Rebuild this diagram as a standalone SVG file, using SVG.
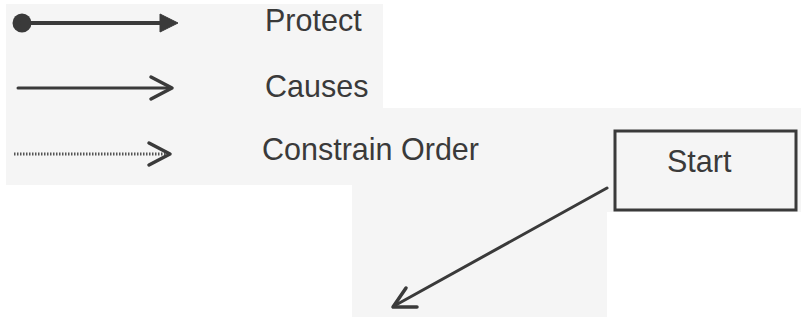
<svg xmlns="http://www.w3.org/2000/svg" width="801" height="322" viewBox="0 0 801 322">
<defs>
<style>
.bg{fill:#f5f5f5;stroke:none}
.lbl{font-family:"Liberation Sans",Arial,sans-serif;font-size:30.5px;fill:#3a3a3a}
.ln{stroke:#3a3a3a;fill:none;stroke-linecap:round;stroke-linejoin:round}
.node{fill:none;stroke:#3a3a3a;stroke-width:3}
</style>
</defs>
<rect width="801" height="322" fill="#ffffff"/>
<rect class="bg" x="6" y="4" width="377" height="181"/>
<path class="bg" d="M352,108 H801 V212 H607 V317 H352 Z"/>
<g id="legend">
<circle cx="22" cy="23" r="9.5" fill="#3a3a3a"/>
<line class="ln" x1="22" y1="23" x2="162" y2="23" stroke-width="4"/>
<path d="M160,14 L178,23 L160,32 Z" fill="#3a3a3a" stroke="#3a3a3a" stroke-width="1"/>
<text class="lbl" x="265" y="31">Protect</text>
<line class="ln" x1="18" y1="88" x2="171" y2="88" stroke-width="3"/>
<path class="ln" d="M151,77 L172,88 L151,99" stroke-width="3.5"/>
<text class="lbl" x="265" y="97">Causes</text>
<line x1="14" y1="154" x2="168" y2="154" stroke="#555" stroke-width="3" stroke-dasharray="1.5 1.5"/>
<path class="ln" d="M149,143 L170,154 L149,165" stroke-width="3.5"/>
<text class="lbl" x="262" y="160">Constrain Order</text>
</g>
<g id="start">
<rect class="node" x="615" y="131" width="181" height="79"/>
<text class="lbl" x="667" y="172">Start</text>
</g>
<g id="connectors">
<line class="ln" x1="607" y1="188" x2="394" y2="306" stroke-width="3"/>
<path class="ln" d="M406,288 L393,307 L417,307" stroke-width="3.5"/>
</g>
</svg>
